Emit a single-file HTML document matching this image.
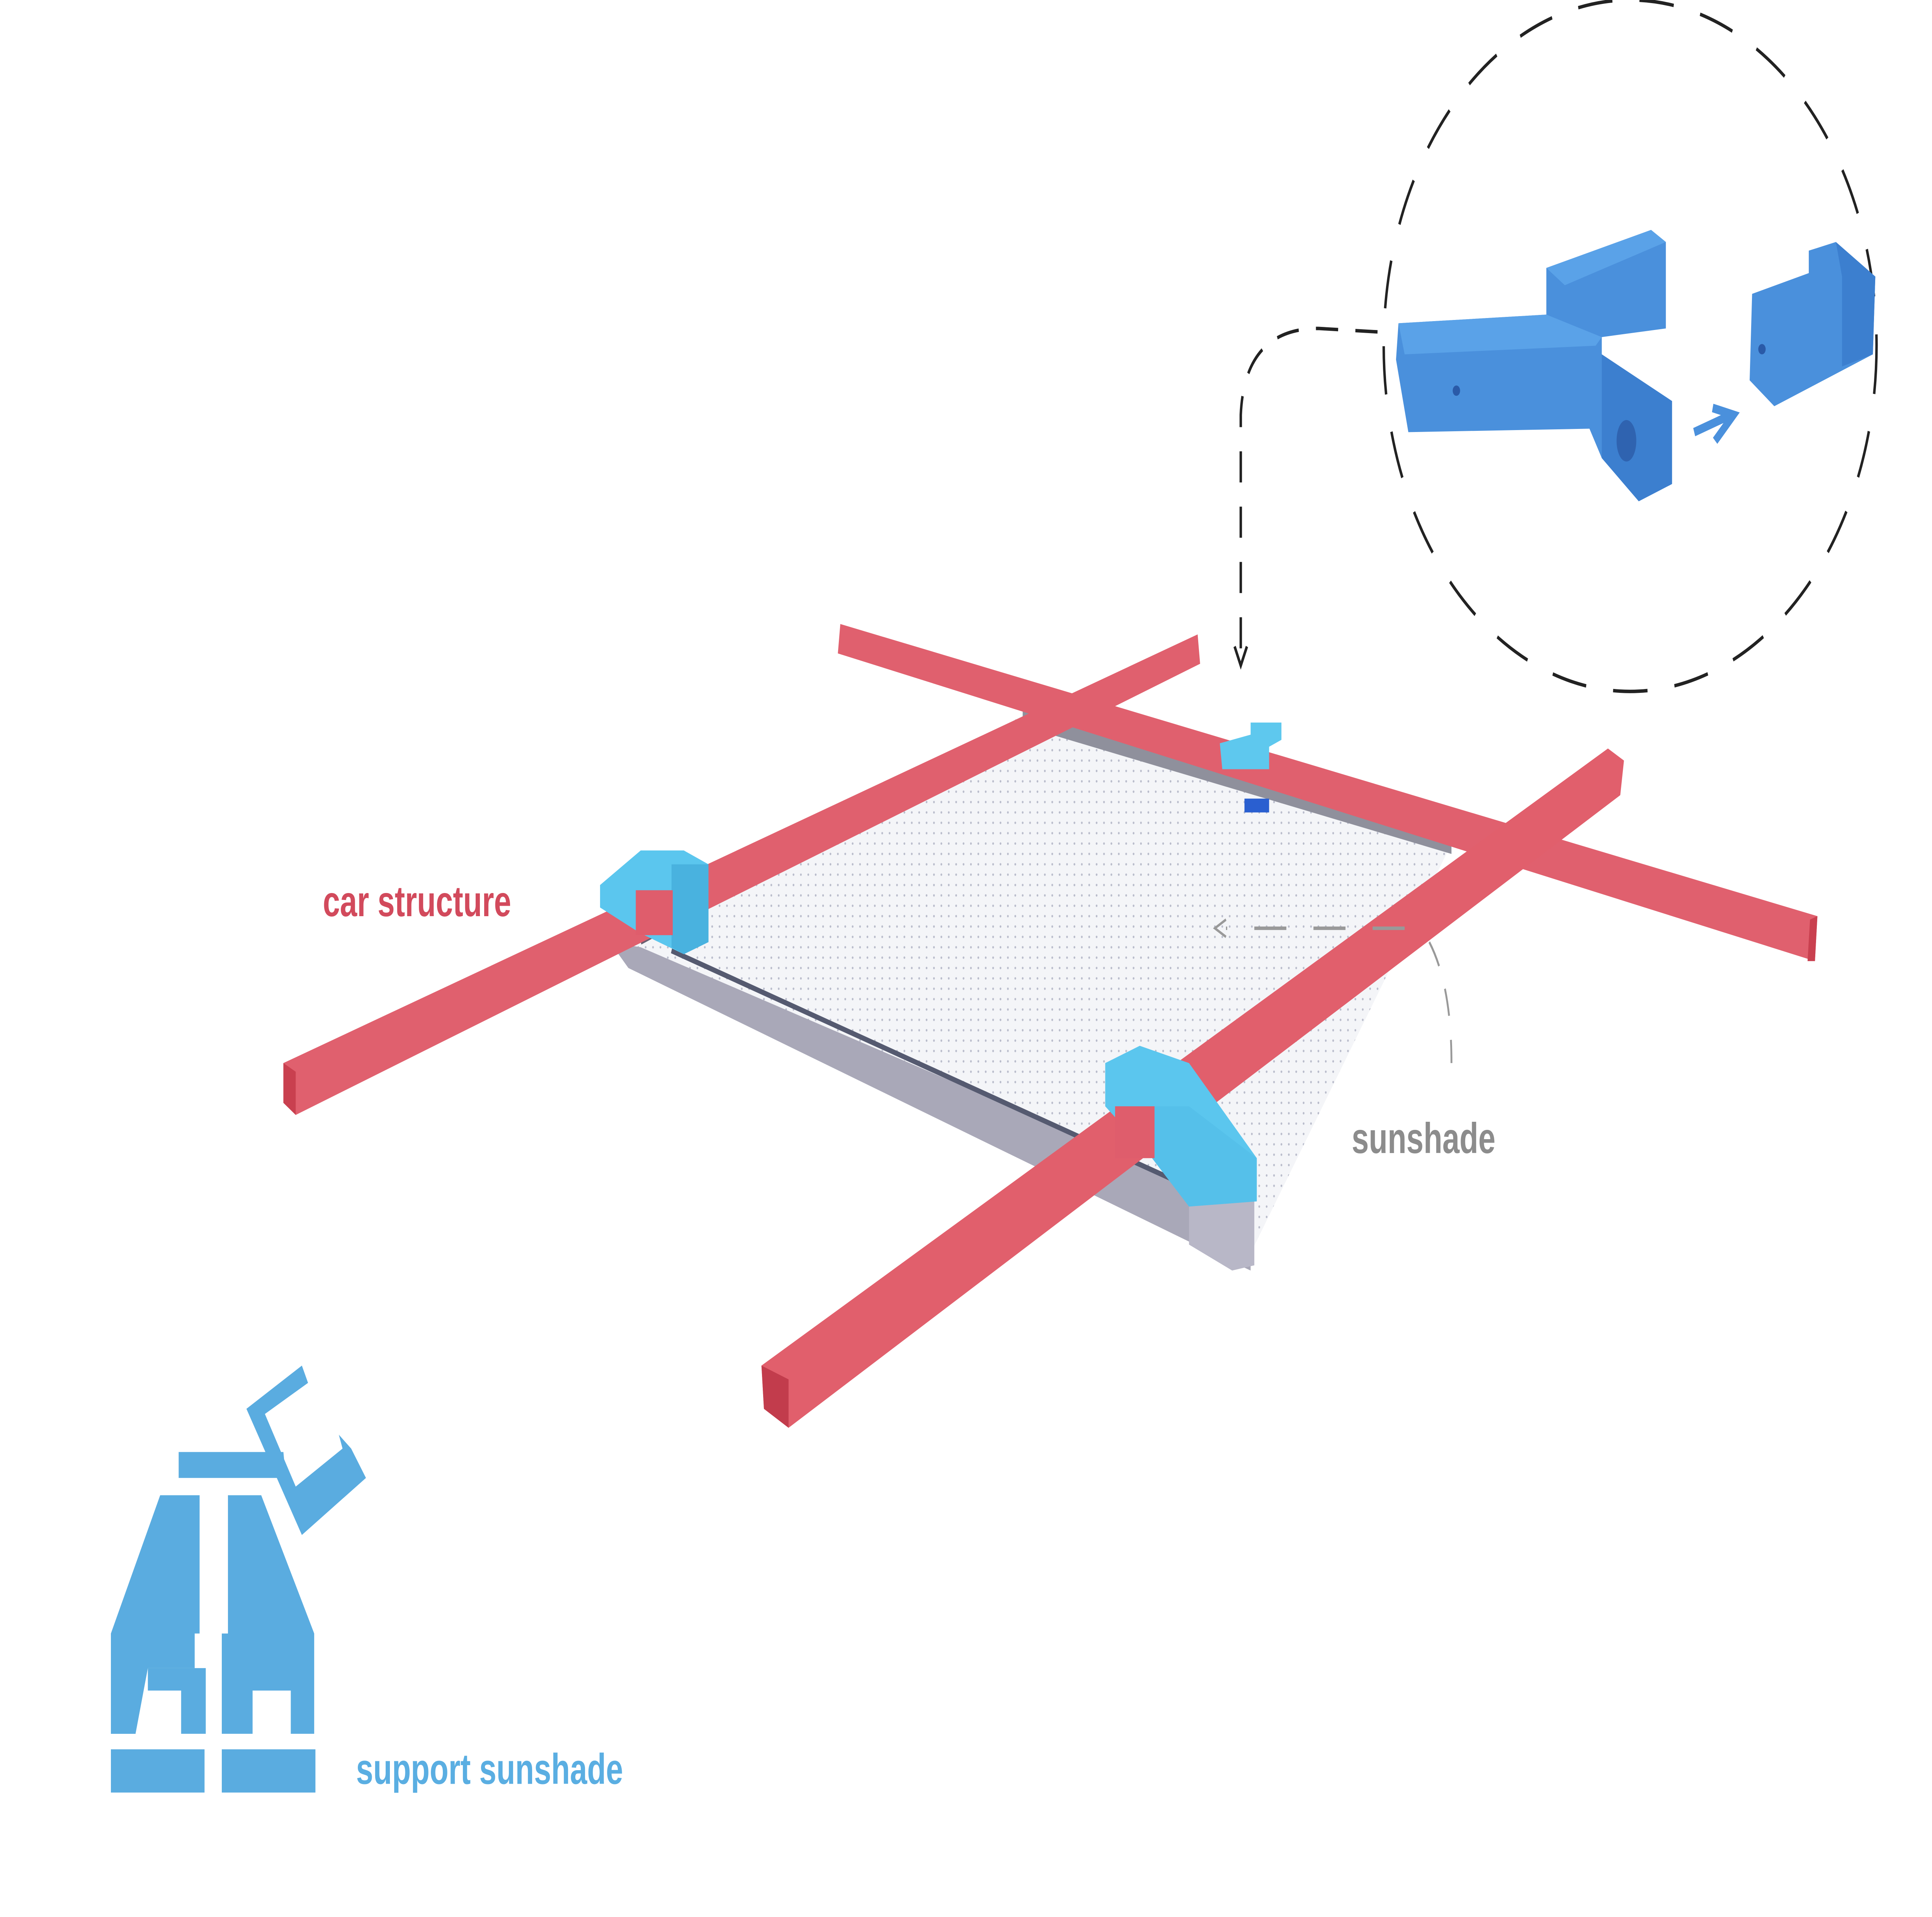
<!DOCTYPE html>
<html><head><meta charset="utf-8"><style>
html,body{margin:0;padding:0;background:#fff;width:100%;height:100%;overflow:hidden}
svg{display:block;position:absolute;left:0;top:0;width:100vw;height:100vh}
text{font-family:"Liberation Sans",Arial,sans-serif;font-weight:bold}
</style></head><body>
<svg viewBox="0 0 1568 1109" preserveAspectRatio="none" xmlns="http://www.w3.org/2000/svg">
<rect width="1568" height="1109" fill="#fff"/>
<defs>
<pattern id="mesh" width="6" height="6" patternUnits="userSpaceOnUse">
<rect width="6" height="6" fill="#f4f5f8"/><circle cx="2" cy="2" r="0.7" fill="#b9bccb"/>
</pattern>
</defs>
<polygon points="495,545 835,412 1178,488 1015,725" fill="url(#mesh)"/>
<polygon points="830,408 1178,484 1178,494 830,420" fill="#8f909c"/>
<polygon points="495,545 510,560 970,720 1015,735 1015,700 520,548" fill="#a9a8b8"/>
<polygon points="965,690 1018,690 1018,732 1000,735 965,720" fill="#b8b7c7"/>
<line x1="520" y1="545" x2="850" y2="418" stroke="#6a5f70" stroke-width="3"/>
<line x1="545" y1="550" x2="960" y2="685" stroke="#555a70" stroke-width="3"/>
<polygon points="682,361 1475,530 1473,556 680,378" fill="#e0606e"/>
<polygon points="1475,530 1473,556 1467,556 1469,532" fill="#c9404f"/>
<polygon points="230,615 972,367 974,384 240,645 230,638" fill="#e0606e"/>
<polygon points="230,615 240,620 240,645 230,638" fill="#c9404f"/>
<polygon points="618,790 1305,433 1318,440 1315,460 640,826 620,815" fill="#e15f6c"/>
<polygon points="618,790 640,798 640,826 620,815" fill="#c23c4c"/>
<polygon points="990,430 1015,425 1015,418 1040,418 1040,428 1030,432 1030,445 992,445" fill="#5ec8ee"/>
<rect x="1010" y="462" width="20" height="8" fill="#2a5fd0"/>
<polygon points="487,512 520,492 555,492 575,500 575,545 555,552 520,540 487,525" fill="#5bc6ee"/>
<polygon points="545,500 575,500 575,545 555,552 545,548" fill="#49b2df"/>
<rect x="516" y="515" width="30" height="26" fill="#df5d6c"/>
<polygon points="897,615 925,605 965,615 1020,670 1020,695 965,698 935,670 897,640" fill="#5bc6ee"/>
<polygon points="935,640 965,640 1020,670 1020,695 965,698 935,670" fill="#55c0ea"/>
<rect x="905" y="640" width="32" height="30" fill="#df5d6c"/>
<circle cx="1323" cy="200" r="200" fill="none" stroke="#222" stroke-width="2" stroke-dasharray="28,22"/>
<path d="M1118,192 L1070,190 Q1010,190 1007,240 L1007,382" fill="none" stroke="#222" stroke-width="2" stroke-dasharray="18,14"/>
<path d="M1002,374 L1007,385 L1012,374" fill="none" stroke="#222" stroke-width="2"/>
<path d="M1140,537 L995,537" fill="none" stroke="#999" stroke-width="2" stroke-dasharray="26,22"/>
<path d="M995,532 L986,537 L995,542" fill="none" stroke="#999" stroke-width="1.5"/>
<path d="M1160,545 Q1178,570 1178,615" fill="none" stroke="#999" stroke-width="1.5" stroke-dasharray="16,14"/>
<polygon points="1135,187 1255,182 1255,155 1340,133 1352,140 1352,190 1300,195 1300,205 1357,232 1357,280 1330,290 1300,265 1290,248 1143,250 1133,208" fill="#4a90dc"/>
<polygon points="1135,187 1255,182 1300,195 1295,200 1140,205" fill="#5aa2e8"/>
<polygon points="1255,155 1340,133 1352,140 1270,165" fill="#5aa2e8"/>
<polygon points="1300,205 1357,232 1357,280 1330,290 1300,265" fill="#3c7fcf"/>
<ellipse cx="1320" cy="255" rx="8" ry="12" fill="#2f63b0"/>
<circle cx="1182" cy="226" r="3" fill="#2a5aa8"/>
<polygon points="1422,170 1468,158 1468,145 1490,140 1522,160 1520,205 1440,235 1420,220" fill="#4a90dc"/>
<polygon points="1490,140 1522,160 1520,205 1495,212 1495,160" fill="#3c7fcf"/>
<circle cx="1430" cy="202" r="3" fill="#2a5aa8"/>
<path d="M1375,250 L1405,240 M1390,236 L1407,240 L1392,255" fill="none" stroke="#4a90dc" stroke-width="5"/>
<g fill="#5aace0">
<polygon points="145,840 230,840 232,855 145,855"/>
<polygon points="200,815 245,790 250,800 215,818 240,860 278,838 275,830 285,838 297,855 245,888"/>
<polygon points="130,865 162,865 162,945 158,945 158,965 120,965 110,1003 90,1003 90,945"/>
<polygon points="90,945 110,945 110,1003 90,1003"/>
<polygon points="120,965 167,965 167,1003 147,1003 147,978 120,978"/>
<polygon points="180,865 212,865 255,945 255,1003 236,1003 236,978 205,978 205,1003 180,1003 180,945 185,945 185,865"/>
<rect x="90" y="1012" width="76" height="25"/>
<rect x="180" y="1012" width="76" height="25"/>
</g>
<text x="262" y="530" font-size="25" fill="#d24a5c">car structure</text>
<text x="1097" y="667" font-size="25" fill="#8c8c8c">sunshade</text>
<text x="289" y="1032" font-size="25" fill="#5aaee2">support sunshade</text>
</svg>
</body></html>
